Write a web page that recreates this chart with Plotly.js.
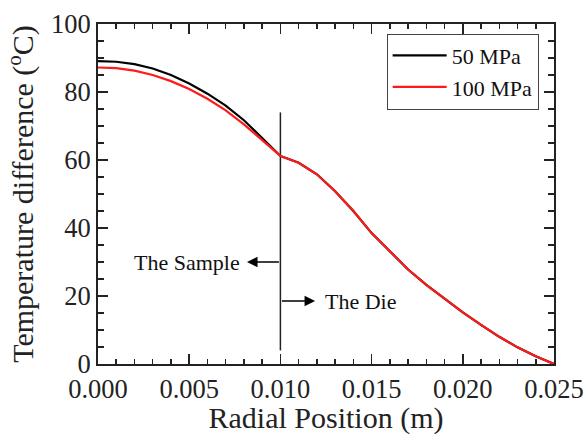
<!DOCTYPE html>
<html>
<head>
<meta charset="utf-8">
<script src="https://cdn.plot.ly/plotly-3.0.1.min.js"></script>
<style>html,body{margin:0;padding:0;background:#fff;}#chart{width:584px;height:435px;}</style>
</head>
<body>
<div id="chart"></div>
<script>
// Radial position (m)
const radialPos = [0.000, 0.001, 0.002, 0.003, 0.004, 0.005, 0.006, 0.007, 0.008, 0.009, 0.010,
  0.011, 0.012, 0.013, 0.014, 0.015, 0.016, 0.017, 0.018, 0.019, 0.020, 0.021, 0.022, 0.023, 0.024, 0.025];
// Temperature difference (°C)
const temp50MPa = [89.1, 88.9, 88.2, 86.9, 85.0, 82.5, 79.5, 76.0, 71.7, 66.6, 61.2,
  59.2, 55.8, 50.8, 45.0, 38.5, 33.0, 27.8, 23.3, 19.3, 15.2, 11.5, 8.0, 4.9, 2.3, 0.0];
const temp100MPa = [87.2, 87.0, 86.3, 85.0, 83.2, 80.9, 78.0, 74.6, 70.5, 65.9, 61.2,
  59.2, 55.8, 50.8, 45.0, 38.5, 33.0, 27.8, 23.3, 19.3, 15.2, 11.5, 8.0, 4.9, 2.3, 0.0];
const seriesNames = ['50 MPa', '100 MPa'];

// Sample/die boundary marker
const boundaryX = [0.010, 0.010];
const boundaryY = [4, 74];
const sampleLabel = 'The Sample';
const sampleArrow = {y: 30, from: 0.010, to: 0.00817, textX: 0.0079};
const dieLabel = 'The Die';
const dieArrow = {y: 18.5, from: 0.010, to: 0.0119, textX: 0.01234};

const xTickVals = [0.000, 0.005, 0.010, 0.015, 0.020, 0.025];
const yTickVals = [0, 20, 40, 60, 80, 100];

const FONT = 'Liberation Serif, Times New Roman, serif';

const traces = [
  {x: boundaryX, y: boundaryY, mode: 'lines', line: {color: '#222', width: 1.5}, showlegend: false, hoverinfo: 'skip'},
  {x: radialPos, y: temp50MPa, name: seriesNames[0], mode: 'lines', line: {color: '#000000', width: 2.2}},
  {x: radialPos, y: temp100MPa, name: seriesNames[1], mode: 'lines', line: {color: '#ff1a1a', width: 2.2}}
];

const arrowCommon = {xref: 'x', yref: 'y', axref: 'x', ayref: 'y', text: '', showarrow: true,
  arrowhead: 2, arrowsize: 1.4, arrowwidth: 1.5, arrowcolor: '#000', standoff: 0, startstandoff: 0};

const layout = {
  width: 584, height: 435,
  margin: {l: 98, r: 30, t: 24, b: 71},
  paper_bgcolor: '#fff', plot_bgcolor: '#fff',
  font: {family: FONT, color: '#111', size: 22},
  showlegend: true,
  legend: {x: 0.633, y: 0.972, xanchor: 'left', yanchor: 'top', bordercolor: '#444', borderwidth: 1,
    bgcolor: '#fff', font: {family: FONT, size: 22, color: '#111'}, itemwidth: 54, tracegroupgap: 0},
  xaxis: {
    range: [0, 0.025], tickvals: xTickVals, tickformat: '.3f',
    ticks: 'inside', ticklen: 10, tickwidth: 1.5, tickcolor: '#222',
    minor: {dtick: 0.001, ticks: 'inside', ticklen: 5, tickwidth: 1.5, tickcolor: '#222', showgrid: false},
    showline: true, linecolor: '#222', linewidth: 2, mirror: 'ticks',
    showgrid: false, zeroline: false,
    tickfont: {family: FONT, size: 26.5, color: '#222'},
    title: {text: 'Radial Position (m)', font: {family: FONT, size: 30, color: '#222'}, standoff: 8}
  },
  yaxis: {
    range: [0, 100], tickvals: yTickVals,
    ticks: 'inside', ticklen: 10, tickwidth: 1.5, tickcolor: '#222',
    minor: {dtick: 5, ticks: 'inside', ticklen: 6, tickwidth: 1.5, tickcolor: '#222', showgrid: false},
    showline: true, linecolor: '#222', linewidth: 2, mirror: 'ticks',
    showgrid: false, zeroline: false,
    tickfont: {family: FONT, size: 26.5, color: '#222'},
    title: {text: 'Temperature difference (<sup>o</sup>C)', font: {family: FONT, size: 30, color: '#222'}, standoff: 8}
  },
  annotations: [
    Object.assign({}, arrowCommon, {x: sampleArrow.to, y: sampleArrow.y, ax: sampleArrow.from, ay: sampleArrow.y}),
    Object.assign({}, arrowCommon, {x: dieArrow.to, y: dieArrow.y, ax: dieArrow.from, ay: dieArrow.y}),
    {xref: 'x', yref: 'y', x: sampleArrow.textX, y: sampleArrow.y, text: sampleLabel, showarrow: false,
      xanchor: 'right', yanchor: 'middle', font: {family: FONT, size: 22, color: '#111'}},
    {xref: 'x', yref: 'y', x: dieArrow.textX, y: dieArrow.y, text: dieLabel, showarrow: false,
      xanchor: 'left', yanchor: 'middle', font: {family: FONT, size: 22, color: '#111'}}
  ]
};

Plotly.newPlot('chart', traces, layout, {displayModeBar: false, staticPlot: true});
</script>
</body>
</html>
